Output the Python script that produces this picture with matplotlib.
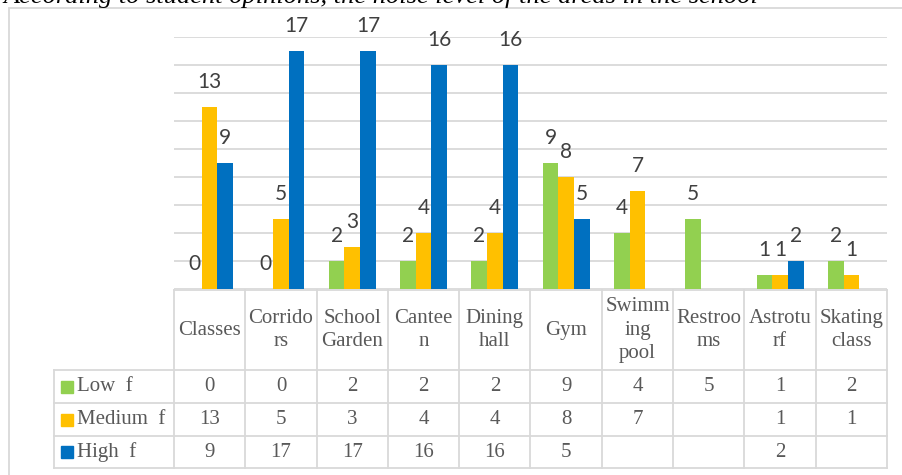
import matplotlib.pyplot as plt
import numpy as np
from matplotlib.patches import Rectangle

# Данные
categories = ['Classes', 'Corrido\nrs', 'School\nGarden', 'Cantee\nn', 'Dining\nhall',
              'Gym', 'Swimm\ning\npool', 'Restroo\nms', 'Astrotu\nrf', 'Skating\nclass']
series_names = ['Low  f', 'Medium  f', 'High  f']
low = [0, 0, 2, 2, 2, 9, 4, 5, 1, 2]
medium = [13, 5, 3, 4, 4, 8, 7, np.nan, 1, 1]
high = [9, 17, 17, 16, 16, 5, np.nan, np.nan, 2, np.nan]
colors = ['#92D050', '#FFC000', '#0070C0']
title = 'According to student opinions, the noise level of the areas in the school'

W, H = 903, 475
fig = plt.figure(figsize=(W / 100, H / 100), dpi=100)

# рамка диаграммы
fig.patches.append(Rectangle((9 / W, -0.05), 1.1, 1 - 8 / H + 0.05, transform=fig.transFigure,
                             fill=False, edgecolor='#D9D9D9', linewidth=1.3))
fig.text(3 / W, 1 - 3 / H, title, family='Liberation Serif', style='italic', fontsize=19,
         va='baseline', ha='left')

# Столбцы
ax = fig.add_axes([174 / W, 1 - 289 / H, (887 - 174) / W, (289 - 37) / H])
x = np.arange(len(categories))
bw = 0.22
for k, vals in enumerate([low, medium, high]):
    pos = x + (k - 1) * bw
    ax.bar(pos, vals, width=bw, color=colors[k], zorder=3)
    for p, v in zip(pos, vals):
        if np.isnan(v):
            continue
        ax.annotate(f'{int(v)}', (p, v), xytext=(0, 18), textcoords='offset points',
                    ha='center', va='center', fontsize=15, family='Lato', color='#404040',
                    annotation_clip=False)
ax.set_xlim(-0.5, len(categories) - 0.5)
ax.set_ylim(0, 18)
ax.set_yticks(np.arange(0, 19, 2))
ax.grid(axis='y', color='#D9D9D9', linewidth=1.3, zorder=0)
ax.tick_params(left=False, bottom=False, labelleft=False, labelbottom=False)
for s in ax.spines.values():
    s.set_visible(False)

# Таблица данных
tx = fig.add_axes([54 / W, 1 - 468 / H, (887 - 54) / W, (468 - 290) / H])
unit = 713 / 10
x0 = -0.5 - 120 / unit
tx.set_xlim(x0, len(categories) - 0.5)
rows_y = [290, 370, 403, 436, 468]
tx.set_ylim(468, 290)
tx.axis('off')
lc, lw = '#D9D9D9', 1.3
n = len(categories)
tx.plot([-0.5, n - 0.5], [rows_y[0]] * 2, color=lc, lw=lw, clip_on=False)
for yy in rows_y[1:]:
    tx.plot([x0, n - 0.5], [yy] * 2, color=lc, lw=lw, clip_on=False)
for i in range(n + 1):
    tx.plot([i - 0.5] * 2, [rows_y[0], rows_y[-1]], color=lc, lw=lw, clip_on=False)
tx.plot([x0] * 2, [rows_y[1], rows_y[-1]], color=lc, lw=lw, clip_on=False)

tcol = '#595959'
for i, c in enumerate(categories):
    tx.text(i, (rows_y[0] + rows_y[1]) / 2, c, ha='center', va='center', fontsize=15,
            family='Liberation Serif', color=tcol, linespacing=1.3)
for r, vals in enumerate([low, medium, high]):
    yc = (rows_y[r + 1] + rows_y[r + 2]) / 2
    tx.plot(x0 + 13.5 / unit, yc, 's', color=colors[r], markersize=8, clip_on=False)
    tx.text(x0 + 23 / unit, yc, series_names[r], ha='left', va='center', fontsize=15,
            family='Liberation Serif', color=tcol)
    for i, v in enumerate(vals):
        if np.isnan(v):
            continue
        tx.text(i, yc, f'{int(v)}', ha='center', va='center', fontsize=15,
                family='Liberation Serif', color=tcol)

fig.savefig('out.png', dpi=100)
